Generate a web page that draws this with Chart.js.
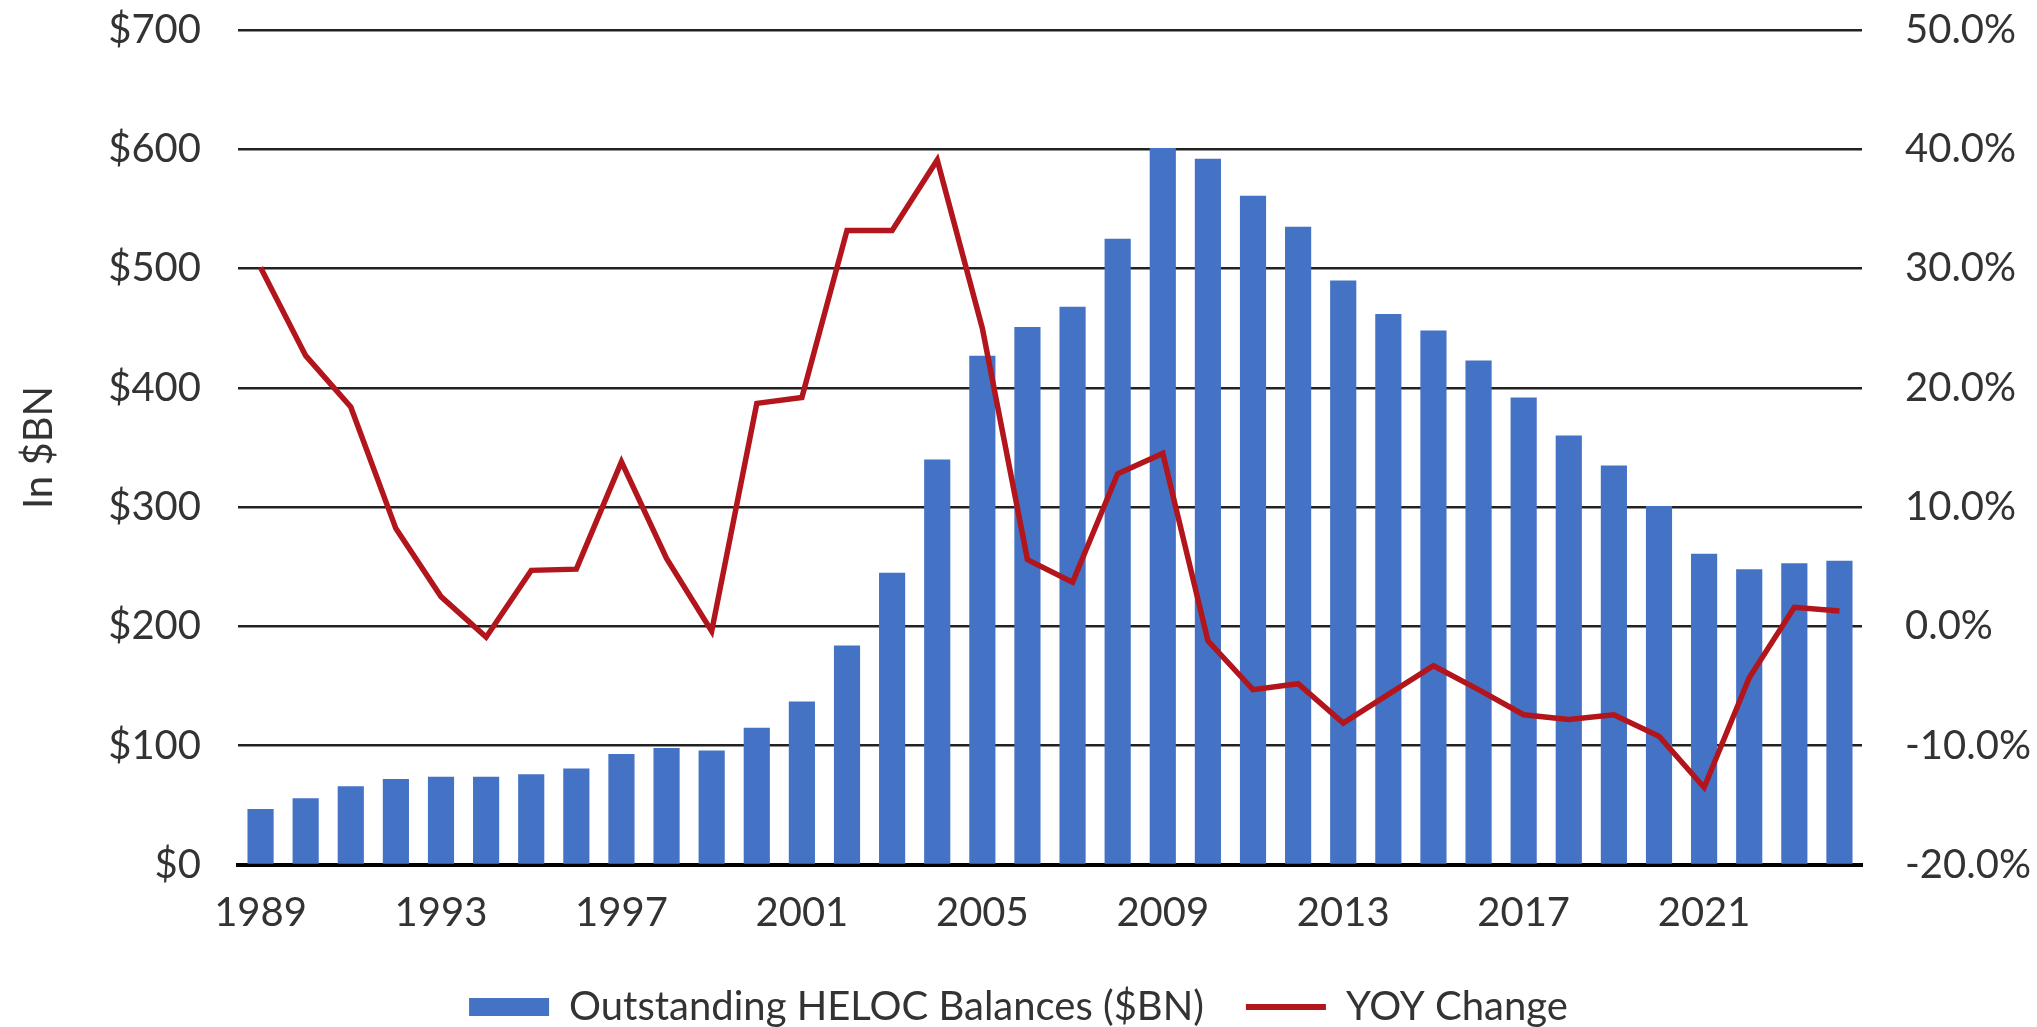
<!DOCTYPE html>
<html>
<head>
<meta charset="utf-8">
<title>HELOC Balances</title>
<script src="https://cdn.jsdelivr.net/npm/chart.js@4.4.1/dist/chart.umd.min.js"></script>
<style>
  html, body { margin: 0; padding: 0; background: #fff; }
  #wrap { width: 2037px; height: 1027px; }
</style>
</head>
<body>
<div id="wrap"><canvas id="chart" width="2037" height="1027"></canvas></div>
<script>
const years = [
  '1989', '1990', '1991', '1992', '1993', '1994', '1995', '1996', '1997',
  '1998', '1999', '2000', '2001', '2002', '2003', '2004', '2005', '2006',
  '2007', '2008', '2009', '2010', '2011', '2012', '2013', '2014', '2015',
  '2016', '2017', '2018', '2019', '2020', '2021', '2022', '2023', '2024',
];

// outstanding balances, $BN
const balances = [
  47, 56, 66, 72, 74, 74, 76, 81, 93,
  98, 96, 115, 137, 184, 245, 340, 427, 451,
  468, 525, 601, 592, 561, 535, 490, 462, 448,
  423, 392, 360, 335, 301, 261, 248, 253, 255,
];

// year-over-year change, %
const yoyChange = [
  30.1, 22.7, 18.4, 8.2, 2.5, -0.9, 4.7, 4.8, 13.8,
  5.7, -0.4, 18.7, 19.2, 33.2, 33.2, 39.1, 25.0, 5.6,
  3.7, 12.8, 14.5, -1.2, -5.3, -4.8, -8.1, -5.7, -3.3,
  -5.3, -7.4, -7.8, -7.4, -9.2, -13.5, -4.3, 1.6, 1.3,
];

const xTickLabels = ['1989', '1993', '1997', '2001', '2005', '2009', '2013', '2017', '2021'];

const BLUE = '#4472C4';
const RED = '#B2161C';
const TEXT = '#333333';
const FONT = { family: 'Lato', size: 40 };

new Chart(document.getElementById('chart'), {
  type: 'bar',
  data: {
    labels: years,
    datasets: [
      {
        type: 'bar',
        label: 'Outstanding HELOC Balances ($BN)',
        data: balances,
        backgroundColor: BLUE,
        yAxisID: 'y',
        categoryPercentage: 1,
        barPercentage: 0.58,
        order: 1,
      },
      {
        type: 'line',
        label: 'YOY Change',
        data: yoyChange,
        borderColor: RED,
        backgroundColor: RED,
        borderWidth: 5.5,
        pointRadius: 0,
        tension: 0,
        yAxisID: 'y1',
        order: 0,
      },
    ],
  },
  options: {
    responsive: false,
    animation: false,
    devicePixelRatio: 1,
    // bottom is negative so the legend row sits closer to the canvas edge
    layout: { padding: { top: 30, left: 0, right: 0, bottom: -10 } },
    plugins: {
      tooltip: { enabled: false },
      legend: {
        position: 'bottom',
        labels: {
          font: FONT,
          color: TEXT,
          usePointStyle: true,
          pointStyleWidth: 80,
          boxHeight: 18,
          padding: 42,
          generateLabels: (chart) => chart.data.datasets.map((ds, i) => ({
            text: ds.label,
            datasetIndex: i,
            fillStyle: ds.type === 'bar' ? BLUE : RED,
            strokeStyle: ds.type === 'bar' ? BLUE : RED,
            lineWidth: ds.type === 'bar' ? 0 : 6,
            pointStyle: ds.type === 'bar' ? 'rect' : 'line',
            fontColor: TEXT,
            hidden: false,
          })),
        },
      },
    },
    scales: {
      x: {
        grid: { display: false, drawTicks: false },
        border: { display: true, color: '#000', width: 4 },
        ticks: {
          font: FONT,
          color: TEXT,
          autoSkip: false,
          maxRotation: 0,
          padding: 24,
          callback: function (value) {
            const label = this.getLabelForValue(value);
            return xTickLabels.includes(label) ? label : '';
          },
        },
        afterFit: (axis) => { axis.height = 80; },
      },
      y: {
        position: 'left',
        min: 0,
        max: 700,
        grid: {
          color: '#222',
          lineWidth: 2.5,
          drawTicks: true,
          tickLength: 37,
          tickColor: 'transparent',
        },
        border: { display: false },
        ticks: {
          stepSize: 100,
          font: FONT,
          color: TEXT,
          padding: 0,
          callback: (v) => '$' + v,
        },
        title: {
          display: true,
          text: 'In $BN',
          font: FONT,
          color: TEXT,
          padding: { top: 15, bottom: 0 },
        },
        afterFit: (axis) => { axis.width = 238; },
      },
      y1: {
        position: 'right',
        min: -20,
        max: 50,
        grid: {
          drawOnChartArea: false,
          drawTicks: true,
          tickLength: 43,
          tickColor: 'transparent',
        },
        border: { display: false },
        ticks: {
          stepSize: 10,
          font: FONT,
          color: TEXT,
          padding: 0,
          callback: (v) => v.toFixed(1) + '%',
        },
        afterFit: (axis) => { axis.width = 175; },
      },
    },
  },
});
</script>
</body>
</html>
